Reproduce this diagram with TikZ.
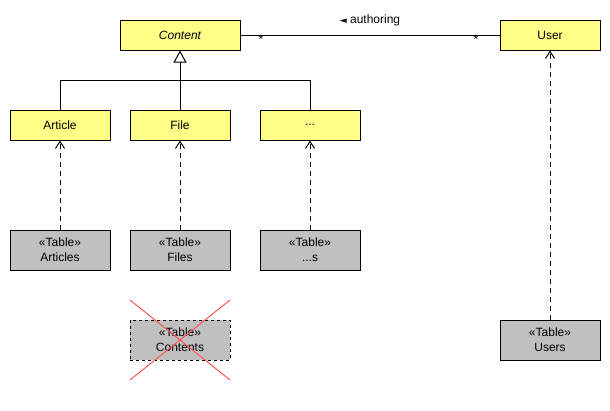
\documentclass[tikz,border=0pt]{standalone}
\usepackage{fontspec}
\setmainfont{Liberation Sans}
\newfontfamily\symfont{DejaVu Sans}
\usetikzlibrary{arrows.meta}
\definecolor{clsyellow}{RGB}{255,255,136}
\definecolor{tblgray}{RGB}{192,192,192}
\definecolor{crossred}{RGB}{255,80,80}
\begin{document}
\begin{tikzpicture}[x=1pt,y=-1pt,
  every node/.style={font=\fontsize{12}{14}\selectfont},
  cls/.style={draw,line width=1pt,fill=clsyellow,minimum width=100pt,minimum height=30pt,inner sep=0pt},
  tbl/.style={draw,line width=1pt,fill=tblgray,minimum width=100pt,minimum height=40pt,inner sep=0pt,align=center,font=\fontsize{12}{15}\selectfont},
  dep/.style={line width=1pt,dash pattern=on 5pt off 4pt,-{Straight Barb[length=7pt,width=9pt,line width=1pt]}},
  ln/.style={line width=1pt}
]
\useasboundingbox (0,0) rectangle (610,410);
% classes
\node[cls,minimum width=120pt] (content) at (180,35) {\itshape Content};
\node[cls] (user) at (550,35) {User};
\node[cls] (article) at (60,125) {Article};
\node[cls] (file) at (180,125) {File};
\node[cls] (dots) at (310,125) {...};
% tables
\node[tbl] (articles) at (60,250) {«Table»\\Articles};
\node[tbl] (files) at (180,250) {«Table»\\Files};
\node[tbl] (dotss) at (310,250) {«Table»\\...s};
\node[tbl,dash pattern=on 3pt off 3pt] (contents) at (180,340) {«Table»\\Contents};
\node[tbl] (users) at (550,340) {«Table»\\Users};
% generalization
\coordinate (jl) at (60,80);
\coordinate (jr) at (310,80);
\draw[ln] (article.north) -- (jl) -- (jr) -- (dots.north);
\draw[ln,-{Triangle[open,length=12pt,width=13pt,line width=1pt,fill=white]}] (file.north) -- (content.south);
% association
\draw[ln] (content.east) -- (user.west);
\node[anchor=south] (assoclabel) at (370,30) {{\symfont\fontsize{9}{10}\selectfont ◄}\ authoring};
\node (mult1) at (261,39) {*};
\node (mult2) at (476,39) {*};
% dependencies
\draw[dep] (articles.north) -- (article.south);
\draw[dep] (files.north) -- (file.south);
\draw[dep] (dotss.north) -- (dots.south);
\draw[dep] (users.north) -- (user.south);
% cross
\coordinate (xa) at (130,300);
\coordinate (xb) at (230,380);
\coordinate (xc) at (230,300);
\coordinate (xd) at (130,380);
\draw[crossred,line width=1pt] (xa) -- (xb);
\draw[crossred,line width=1pt] (xc) -- (xd);
\end{tikzpicture}
\end{document}
